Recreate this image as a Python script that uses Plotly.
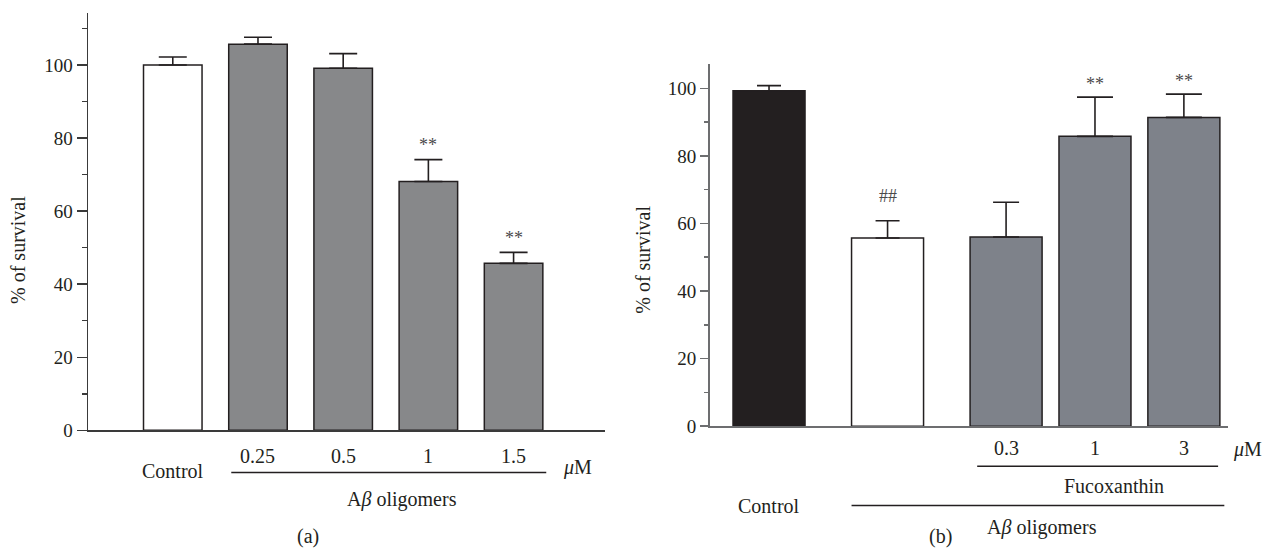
import plotly.graph_objects as go

# ---------------- data ----------------
a_labels = ["Control", "0.25", "0.5", "1", "1.5"]
a_values = [100.0, 105.7, 99.1, 68.1, 45.7]
a_errors = [2.2, 1.9, 4.0, 6.0, 3.0]
a_marks = ["", "", "", "**", "**"]

b_labels = ["Control", "", "0.3", "1", "3"]
b_values = [99.3, 55.7, 56.0, 85.8, 91.4]
b_errors = [1.5, 5.1, 10.3, 11.6, 6.9]
b_marks = ["", "##", "", "**", "**"]

y_ticks = [0, 20, 40, 60, 80, 100]
a_minor = [10, 30, 50, 70, 90, 110]
b_minor = [10, 30, 50, 70, 90]

# ---------------- layout constants ----------------
W, H = 1271, 558
FONT = "Liberation Serif"
TXT = "#231f20"

a_pos = [0, 1, 2, 3, 4]
b_pos = [0, 4 / 3, 8 / 3, 11 / 3, 14 / 3]
a_fill = ["#ffffff", "#87888a", "#87888a", "#87888a", "#87888a"]
b_fill = ["#231f20", "#ffffff", "#7e828a", "#7e828a", "#7e828a"]
a_cap = [14, 14, 14, 14, 14]
b_cap = [12, 12, 13, 18, 18]
a_width = 0.687
b_width = 0.81


def px(x):
    return x / W


def py(y):
    return 1 - y / H


fig = go.Figure()

for i in range(len(a_values)):
    fig.add_trace(go.Bar(
        x=[a_pos[i]], y=[a_values[i]], width=a_width,
        marker=dict(color=a_fill[i], line=dict(color="#231f20", width=1.5)),
        error_y=dict(type="data", array=[a_errors[i]], arrayminus=[0], symmetric=False,
                     color="#231f20", thickness=1.6, width=a_cap[i]),
        xaxis="x", yaxis="y", showlegend=False, hoverinfo="skip"))

for i in range(len(b_values)):
    fig.add_trace(go.Bar(
        x=[b_pos[i]], y=[b_values[i]], width=b_width,
        marker=dict(color=b_fill[i], line=dict(color="#231f20", width=1.5)),
        error_y=dict(type="data", array=[b_errors[i]], arrayminus=[0], symmetric=False,
                     color="#231f20", thickness=1.6, width=b_cap[i]),
        xaxis="x2", yaxis="y2", showlegend=False, hoverinfo="skip"))

annotations = []
mark_font = dict(family=FONT, size=18, color="#4a4a4a")

# significance marks
for i, m in enumerate(a_marks):
    if m:
        annotations.append(dict(x=a_pos[i], y=a_values[i] + a_errors[i] + 5.1, xref="x", yref="y",
                                text=m, showarrow=False, yshift=-4, xanchor="center",
                                yanchor="middle", font=mark_font))
for i, m in enumerate(b_marks):
    if m:
        annotations.append(dict(x=b_pos[i], y=(b_values[i] + b_errors[i] + 5.0) if m == "**" else 68.0,
                                xref="x2", yref="y2",
                                text=m, showarrow=False, yshift=-4 if m == "**" else 0,
                                xanchor="center", yanchor="middle", font=mark_font))

lab_font = dict(family=FONT, size=20, color=TXT)


def label(x, y, text, xref="paper", angle=0):
    return dict(x=x, y=y, xref=xref, yref="paper", text=text, showarrow=False,
                xanchor="center", yanchor="middle", textangle=angle, font=lab_font)


# panel (a) category labels
for i, lab in enumerate(a_labels):
    yy = 480 if i == 0 else 465
    annotations.append(label(a_pos[i], py(yy), lab, xref="x"))
annotations += [
    label(px(577.5), py(477), "<i>μ</i>M"),
    label(px(401.5), py(510), "A<i>β</i> oligomers"),
    label(px(307.7), py(547), "(a)"),
    label(px(18), py(255), "% of survival", angle=-90),
]

# panel (b) labels
for i, lab in enumerate(b_labels):
    if not lab:
        continue
    yy = 516 if i == 0 else 457
    annotations.append(label(b_pos[i], py(yy), lab, xref="x2"))
annotations += [
    label(px(1247), py(459), "<i>μ</i>M"),
    label(px(1113.7), py(495.5), "Fucoxanthin"),
    label(px(1041.6), py(538), "A<i>β</i> oligomers"),
    label(px(940.5), py(547), "(b)"),
    label(px(643), py(265), "% of survival", angle=-90),
]

line_style = dict(color="#231f20", width=1.5)
shapes = [
    dict(type="line", xref="x", yref="paper",
         x0=a_pos[1] - a_width / 2 + 0.03, x1=a_pos[4] + a_width / 2 + 0.04,
         y0=py(482), y1=py(482), line=line_style),
    dict(type="line", xref="x2", yref="paper",
         x0=b_pos[2] - b_width / 2 + 0.08, x1=b_pos[4] + b_width / 2 - 0.02,
         y0=py(475.5), y1=py(475.5), line=line_style),
    dict(type="line", xref="x2", yref="paper",
         x0=b_pos[1] - b_width / 2, x1=b_pos[4] + b_width / 2 + 0.05,
         y0=py(515.6), y1=py(515.6), line=line_style),
]

tick_font = dict(family=FONT, size=19, color=TXT)

fig.update_layout(
    width=W, height=H, autosize=False,
    margin=dict(l=0, r=0, t=0, b=0),
    paper_bgcolor="white", plot_bgcolor="white",
    barmode="overlay", bargap=0,
    showlegend=False,
    annotations=annotations, shapes=shapes,
    xaxis=dict(domain=[px(88), px(605)], range=[-0.995, 5.073], showline=True,
               linecolor="#3a3a3a", linewidth=1.5, showticklabels=False, ticks="",
               showgrid=False, zeroline=False, anchor="y", fixedrange=True),
    yaxis=dict(domain=[py(439), py(13)], range=[0, 114.3], showline=True,
               linecolor="#3a3a3a", linewidth=1.5, tickvals=y_ticks, ticks="outside",
               ticklen=10, tickwidth=1.5, tickcolor="#3a3a3a", tickfont=tick_font,
               minor=dict(tickvals=a_minor, ticks="outside", ticklen=5, tickwidth=1.5,
                          tickcolor="#3a3a3a"),
               showgrid=False, zeroline=False, anchor="x", fixedrange=True),
    xaxis2=dict(domain=[px(710), px(1228)], range=[-0.664, 5.163], showline=True,
                linecolor="#6d6e70", linewidth=2, showticklabels=False, ticks="",
                showgrid=False, zeroline=False, anchor="y2", fixedrange=True),
    yaxis2=dict(domain=[py(434.7), py(65)], range=[0, 107.3], showline=True,
                linecolor="#6d6e70", linewidth=2, tickvals=y_ticks, ticks="outside",
                ticklen=8, tickwidth=1.5, tickcolor="#6d6e70", tickfont=tick_font,
                minor=dict(tickvals=b_minor, ticks="outside", ticklen=4, tickwidth=1.5,
                           tickcolor="#6d6e70"),
                showgrid=False, zeroline=False, anchor="x2", fixedrange=True),
)

fig.write_html("out.html", config=dict(displayModeBar=False, staticPlot=True))
